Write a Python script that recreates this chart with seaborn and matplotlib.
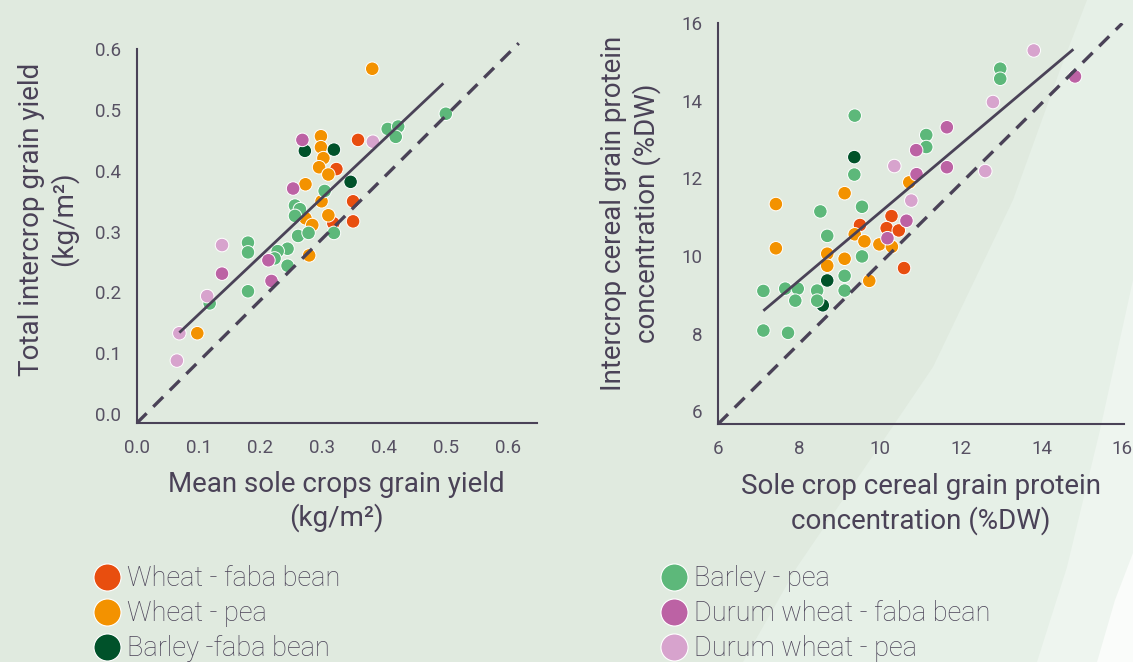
import numpy as np
import pandas as pd
import matplotlib
matplotlib.use("Agg")
import matplotlib.pyplot as plt
from matplotlib.patches import Polygon
from matplotlib.lines import Line2D
import seaborn as sns

groups = ["Wheat - faba bean", "Wheat - pea", "Barley -faba bean",
          "Barley - pea", "Durum wheat - faba bean", "Durum wheat - pea"]
colors = ["#e84e0f", "#f39200", "#00522a", "#5db87a", "#bc62a4", "#d7a3cd"]

# grain yield (kg/m2): sole crops mean (x) vs intercrop total (y)
yield_x = {
    "Wheat - faba bean": [0.358, 0.323, 0.350, 0.318, 0.350],
    "Wheat - pea": [0.381, 0.298, 0.298, 0.302, 0.295, 0.310, 0.273, 0.299,
                    0.273, 0.284, 0.310, 0.279, 0.098],
    "Barley -faba bean": [0.272, 0.319, 0.346],
    "Barley - pea": [0.500, 0.406, 0.423, 0.419, 0.304, 0.256, 0.264, 0.256,
                     0.261, 0.278, 0.319, 0.244, 0.228, 0.223, 0.244, 0.180,
                     0.180, 0.180, 0.118],
    "Durum wheat - faba bean": [0.268, 0.253, 0.213, 0.218, 0.138],
    "Durum wheat - pea": [0.382, 0.138, 0.114, 0.069, 0.065],
}
yield_y = {
    "Wheat - faba bean": [0.451, 0.403, 0.350, 0.314, 0.317],
    "Wheat - pea": [0.568, 0.457, 0.439, 0.421, 0.406, 0.394, 0.378, 0.350,
                    0.322, 0.311, 0.327, 0.261, 0.133],
    "Barley -faba bean": [0.433, 0.435, 0.382],
    "Barley - pea": [0.494, 0.469, 0.473, 0.456, 0.367, 0.343, 0.337, 0.326,
                     0.293, 0.298, 0.298, 0.272, 0.268, 0.256, 0.244, 0.282,
                     0.266, 0.202, 0.182],
    "Durum wheat - faba bean": [0.451, 0.371, 0.253, 0.219, 0.231],
    "Durum wheat - pea": [0.448, 0.278, 0.194, 0.133, 0.088],
}
yield_fit_x = [0.069, 0.496]
yield_fit_y = [0.134, 0.544]
yield_ref_x = [0.0, 0.618]
yield_ref_y = [-0.015, 0.61]

# cereal grain protein (%DW): sole crop (x) vs intercrop (y)
prot_x = {
    "Wheat - faba bean": [9.51, 10.29, 10.17, 10.47, 10.60],
    "Wheat - pea": [7.43, 7.43, 9.13, 10.73, 9.38, 9.62, 9.99, 10.30, 8.70,
                    8.70, 9.13, 9.74],
    "Barley -faba bean": [9.37, 8.70, 8.59],
    "Barley - pea": [9.38, 9.37, 9.56, 8.53, 8.70, 9.56, 9.13, 9.13, 7.12,
                     7.66, 7.97, 7.91, 8.45, 8.45, 7.12, 7.73, 12.98, 12.98,
                     11.15, 11.15],
    "Durum wheat - faba bean": [14.83, 11.66, 11.66, 10.90, 10.91, 10.66, 10.19],
    "Durum wheat - pea": [13.81, 12.80, 12.61, 10.36, 10.78],
}
prot_y = {
    "Wheat - faba bean": [10.80, 11.03, 10.72, 10.66, 9.69],
    "Wheat - pea": [11.34, 10.20, 11.62, 11.90, 10.56, 10.38, 10.30, 10.24,
                    10.06, 9.75, 9.93, 9.36],
    "Barley -faba bean": [12.55, 9.37, 8.73],
    "Barley - pea": [13.62, 12.10, 11.27, 11.15, 10.52, 9.99, 9.49, 9.11, 9.10,
                     9.16, 9.16, 8.85, 9.11, 8.85, 8.08, 8.02, 14.83, 14.57,
                     13.12, 12.81],
    "Durum wheat - faba bean": [14.63, 13.32, 12.29, 12.73, 12.11, 10.91, 10.46],
    "Durum wheat - pea": [15.30, 13.97, 12.19, 12.32, 11.43],
}
prot_fit_x = [7.12, 14.79]
prot_fit_y = [8.59, 15.33]
prot_ref_x = [6.0, 16.0]
prot_ref_y = [5.67, 16.0]


def to_frame(xs, ys):
    rows = []
    for g in groups:
        for a, b in zip(xs[g], ys[g]):
            rows.append({"x": a, "y": b, "group": g})
    return pd.DataFrame(rows)


sns.set_style("white")
plt.rcParams["font.family"] = ["Roboto", "DejaVu Sans"]
plt.rcParams["font.weight"] = "light"
ink = "#4a4257"

W, H = 1133, 662
fig = plt.figure(figsize=(W / 100, H / 100), dpi=100)
fig.patch.set_facecolor("#e0eadf")

# lighter curved bands on the right side of the background
bands = [
    ("#e6f0e7", [(1087, 0), (1133, 0), (1133, 662), (743, 662), (797, 567),
                 (870, 460), (933, 367), (1013, 200), (1060, 70)]),
    ("#eef5ef", [(1133, 280), (1133, 662), (1037, 662), (1067, 567),
                 (1100, 430)]),
    ("#fafcfa", [(1133, 553), (1133, 662), (1097, 662), (1115, 600)]),
]
for col, pts in bands:
    fig.add_artist(Polygon([(x / W, 1 - y / H) for x, y in pts], closed=True,
                           transform=fig.transFigure, facecolor=col,
                           edgecolor="none", zorder=-5))


def px_axes(left, top, right, bottom):
    return fig.add_axes([left / W, 1 - bottom / H, (right - left) / W,
                         (bottom - top) / H])


ax1 = px_axes(136.7, 34.1, 536.7, 423.2)
ax2 = px_axes(718.1, 23.3, 1123.5, 424.0)

panels = [
    (ax1, to_frame(yield_x, yield_y), yield_fit_x, yield_fit_y, yield_ref_x,
     yield_ref_y, (0, 0.647), (-0.015, 0.625), np.arange(0, 0.61, 0.1),
     "Mean sole crops grain yield\n(kg/m²)",
     "Total intercrop grain yield\n(kg/m²)", -0.147),
    (ax2, to_frame(prot_x, prot_y), prot_fit_x, prot_fit_y, prot_ref_x,
     prot_ref_y, (6.0, 16.03), (5.67, 16.0), np.arange(6, 17, 2),
     "Sole crop cereal grain protein\nconcentration (%DW)",
     "Intercrop cereal grain protein\nconcentration (%DW)", -0.142),
]

pal = dict(zip(groups, colors))
for ax, df, fx, fy, rx, ry, xl, yl, ticks, xlab, ylab, ylx in panels:
    ax.set_facecolor("none")
    sns.scatterplot(data=df, x="x", y="y", hue="group", hue_order=groups,
                    palette=pal, s=95, edgecolor="white", linewidth=0.7,
                    legend=False, ax=ax, zorder=2)
    ax.plot(fx, fy, color=ink, lw=2.0, zorder=3, solid_capstyle="butt")
    ax.plot(rx, ry, color=ink, lw=2.4, linestyle=(0, (4.2, 2.8)), zorder=3)
    ax.set_xlim(*xl)
    ax.set_ylim(*yl)
    ax.set_xticks(ticks)
    ax.set_yticks(ticks)
    if ax is ax1:
        ax.set_xticklabels([f"{t:.1f}" for t in ticks])
        ax.set_yticklabels([f"{t:.1f}" for t in ticks])
        ax.spines["left"].set_bounds(-0.015, 0.6)
    else:
        ax.set_xticklabels([f"{t:d}" for t in ticks])
        ax.set_yticklabels([f"{t:d}" for t in ticks])
    for side in ["top", "right"]:
        ax.spines[side].set_visible(False)
    for side in ["left", "bottom"]:
        ax.spines[side].set_color(ink)
        ax.spines[side].set_linewidth(1.5)
    ax.tick_params(direction="inout", length=9, width=1.3, color=ink,
                   labelcolor="#575163", labelsize=13.5, pad=7)
    for lab in ax.get_xticklabels() + ax.get_yticklabels():
        lab.set_fontweight("normal")
    ax.set_xlabel(xlab, fontsize=20, color=ink, linespacing=1.27, va="top")
    ax.set_ylabel(ylab, fontsize=20, color=ink, linespacing=1.2)
    ax.xaxis.set_label_coords(0.5, -0.122)
    ax.yaxis.set_label_coords(ylx, 0.525)

handles = [Line2D([], [], linestyle="none", marker="o", markersize=19.5,
                  markerfacecolor=c, markeredgecolor="white",
                  markeredgewidth=0.8) for c in colors]
for i, xpos in enumerate([96, 663]):
    leg = fig.legend(handles[3 * i:3 * i + 3], groups[3 * i:3 * i + 3],
                     loc="upper left", bbox_to_anchor=(xpos / W, 1 - 565 / H),
                     frameon=False, fontsize=19.5, handletextpad=0.35,
                     handlelength=0.8, labelspacing=0.3, borderpad=0,
                     borderaxespad=0, labelcolor=ink)

fig.savefig("out.png", dpi=100, facecolor=fig.get_facecolor())
